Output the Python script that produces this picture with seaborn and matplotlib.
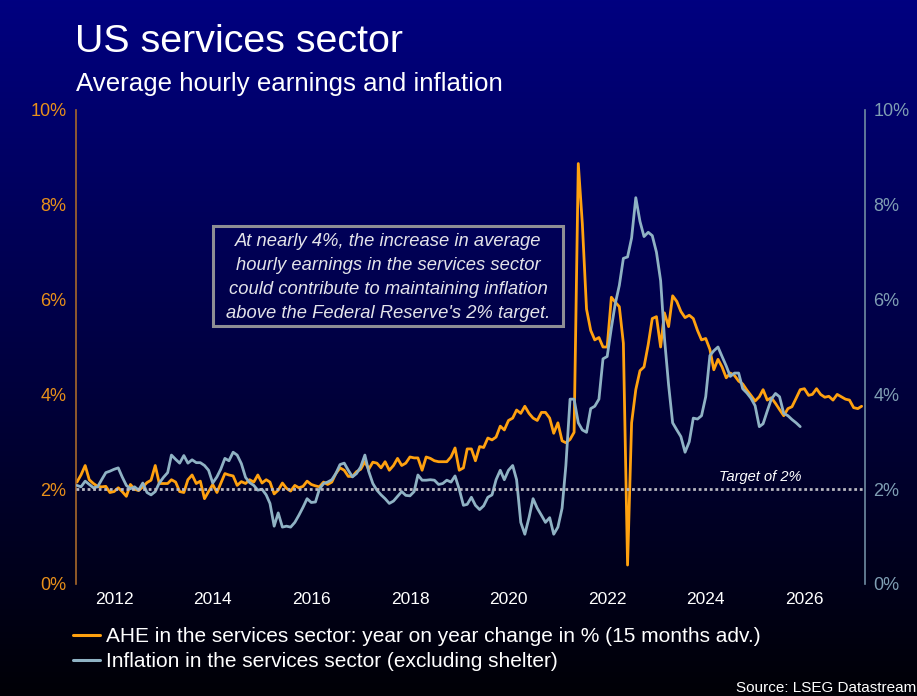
import numpy as np
import pandas as pd
import matplotlib
matplotlib.use("Agg")
import matplotlib.pyplot as plt
import matplotlib.dates as mdates
from matplotlib.patches import Rectangle
from matplotlib.lines import Line2D
import seaborn as sns

# ---- data -----------------------------------------------------------------
# Average hourly earnings, services sector, y/y % change (monthly from Jan 2010);
# plotted 15 months ahead of its release month.
ahe_start = "2010-01-01"
ahe_lead_months = 15
ahe_yoy = [
    2.15, 2.30, 2.50, 2.20, 2.12, 2.06, 2.05, 2.06, 1.93, 1.95, 2.03, 1.95,
    1.85, 2.10, 2.00, 1.97, 2.05, 2.14, 2.19, 2.50, 2.12, 2.12, 2.12, 2.20,
    2.15, 1.95, 1.93, 2.20, 2.30, 2.12, 2.17, 1.80, 1.95, 2.10, 1.93, 2.12,
    2.33, 2.30, 2.28, 2.08, 2.16, 2.12, 2.20, 2.15, 2.30, 2.13, 2.20, 2.15,
    1.90, 1.98, 2.13, 2.02, 1.96, 2.08, 2.03, 2.06, 2.17, 2.10, 2.07, 2.05,
    2.15, 2.10, 2.15, 2.33, 2.45, 2.40, 2.27, 2.27, 2.37, 2.42, 2.58, 2.42,
    2.57, 2.55, 2.45, 2.58, 2.40, 2.50, 2.65, 2.50, 2.55, 2.68, 2.66, 2.66,
    2.40, 2.68, 2.65, 2.60, 2.58, 2.58, 2.58, 2.68, 2.87, 2.40, 2.45, 2.85,
    2.85, 2.60, 2.90, 2.88, 3.08, 3.04, 3.10, 3.33, 3.25, 3.45, 3.50, 3.67,
    3.60, 3.75, 3.60, 3.50, 3.45, 3.62, 3.62, 3.50, 3.18, 3.40, 3.02, 2.98,
    3.05, 3.20, 8.87, 7.60, 5.80, 5.35, 5.15, 5.20, 5.00, 5.00, 6.05, 5.95,
    5.85, 5.08, 0.40, 3.40, 4.10, 4.50, 4.58, 5.05, 5.60, 5.64, 5.00, 5.72,
    5.43, 6.08, 5.96, 5.75, 5.62, 5.67, 5.60, 5.35, 5.15, 5.18, 4.95, 4.52,
    4.74, 4.58, 4.35, 4.45, 4.40, 4.28, 4.22, 4.09, 3.98, 3.86, 3.95, 4.10,
    3.88, 3.93, 3.81, 3.68, 3.55, 3.70, 3.74, 3.92, 4.10, 4.12, 3.98, 4.00,
    4.12, 4.00, 3.94, 3.96, 3.88, 4.00, 3.95, 3.90, 3.88, 3.72, 3.70, 3.75,
]

# Services inflation excluding shelter, y/y % (monthly from Apr 2011)
infl_start = "2011-04-01"
infl_yoy = [
    2.08, 2.05, 2.17, 2.10, 2.03, 2.05, 2.20, 2.35, 2.38, 2.42, 2.45, 2.26,
    2.08, 2.01, 2.05, 1.98, 2.13, 1.93, 1.88, 1.95, 2.13, 2.25, 2.35, 2.72,
    2.63, 2.55, 2.71, 2.55, 2.62, 2.56, 2.56, 2.50, 2.40, 2.13, 2.26, 2.42,
    2.65, 2.60, 2.78, 2.72, 2.54, 2.25, 2.14, 2.08, 1.98, 2.00, 1.88, 1.70,
    1.22, 1.50, 1.20, 1.22, 1.20, 1.30, 1.45, 1.62, 1.80, 1.72, 1.73, 2.00,
    2.12, 2.15, 2.20, 2.33, 2.52, 2.55, 2.40, 2.26, 2.33, 2.47, 2.72, 2.38,
    2.12, 1.98, 1.88, 1.80, 1.70, 1.75, 1.85, 1.95, 1.87, 1.86, 1.95, 2.30,
    2.19, 2.19, 2.20, 2.19, 2.10, 2.12, 2.19, 2.15, 2.28, 2.00, 1.66, 1.68,
    1.83, 1.66, 1.57, 1.65, 1.83, 1.88, 2.20, 2.40, 2.20, 2.40, 2.50, 2.20,
    1.30, 1.05, 1.40, 1.80, 1.60, 1.45, 1.30, 1.40, 1.05, 1.20, 1.60, 2.50,
    3.90, 3.90, 3.40, 3.25, 3.20, 3.70, 3.75, 3.90, 4.75, 4.80, 5.40, 5.90,
    6.30, 6.87, 6.90, 7.30, 8.15, 7.65, 7.33, 7.42, 7.35, 7.00, 6.40, 5.20,
    4.20, 3.40, 3.25, 3.11, 2.78, 3.00, 3.50, 3.48, 3.55, 3.95, 4.82, 4.92,
    5.00, 4.80, 4.60, 4.38, 4.45, 4.45, 4.12, 4.03, 3.92, 3.76, 3.32, 3.38,
    3.65, 3.90, 4.02, 3.95, 3.60, 3.55, 3.47, 3.40, 3.32,
]

fed_target = 2.0
y_ticks = [0, 2, 4, 6, 8, 10]
series_labels = [
    "AHE in the services sector: year on year change in % (15 months adv.)",
    "Inflation in the services sector (excluding shelter)",
]

ahe = pd.DataFrame({
    "date": pd.date_range(ahe_start, periods=len(ahe_yoy), freq="MS")
            + pd.DateOffset(months=ahe_lead_months),
    "value": ahe_yoy,
})
infl = pd.DataFrame({
    "date": pd.date_range(infl_start, periods=len(infl_yoy), freq="MS"),
    "value": infl_yoy,
})

# ---- style ----------------------------------------------------------------
sns.set_theme(style="white")
plt.rcParams["font.family"] = ["Liberation Sans", "DejaVu Sans"]

ORANGE = "#ffa10f"
ORANGE_TXT = "#e8901a"
ORANGE_AXIS = "#a8682a"
BLUE = "#8fb2c4"
BLUE_TXT = "#7f9eb3"
BLUE_AXIS = "#6f8ca2"

W, H = 917, 696
fig = plt.figure(figsize=(W / 100, H / 100), dpi=100, facecolor="black")

# navy-to-black vertical gradient behind everything
bg = fig.add_axes([0, 0, 1, 1], zorder=-10)
t = np.linspace(0, 1, 256)[:, None, None]
top = np.array([0, 0, 128]) / 255
bottom = np.array([0, 0, 6]) / 255
bg.imshow(top + (bottom - top) * t * np.ones((1, 2, 1)), aspect="auto",
          extent=[0, 1, 0, 1], origin="upper")
bg.axis("off")

L, R, T, B = 76, 865, 110, 584
ax = fig.add_axes([L / W, 1 - B / H, (R - L) / W, (B - T) / H])
ax.patch.set_alpha(0)
ax2 = ax.twinx()

sns.lineplot(data=ahe, x="date", y="value", ax=ax, color=ORANGE,
             linewidth=2.0, legend=False)
sns.lineplot(data=infl, x="date", y="value", ax=ax2, color=BLUE,
             linewidth=2.0, legend=False)

ax2.axhline(fed_target, color="#b8b8c0", linewidth=2.0,
            linestyle=(0, (1.0, 1.0)), zorder=5)
ax2.text(pd.Timestamp("2025-02-05"), 2.26, "Target of 2%", ha="center",
         va="center", color="white", fontsize=10.5, style="italic", zorder=6)

for a in (ax, ax2):
    a.set_ylim(0, 10)
    a.set_yticks(y_ticks)
    a.yaxis.set_major_formatter(lambda v, p: f"{v:.0f}%")
    a.set_xlim(pd.Timestamp("2011-03-25"), pd.Timestamp("2027-03-26"))
    a.set_xlabel("")
    a.set_ylabel("")
    a.grid(False)
    for s in a.spines.values():
        s.set_visible(False)

ax.spines["left"].set_visible(True)
ax.spines["left"].set_color(ORANGE_AXIS)
ax.spines["left"].set_linewidth(1.2)
ax2.spines["right"].set_visible(True)
ax2.spines["right"].set_color(BLUE_AXIS)
ax2.spines["right"].set_linewidth(1.2)

ax.tick_params(axis="y", length=0, pad=7, labelsize=13, labelcolor=ORANGE_TXT)
ax2.tick_params(axis="y", length=0, pad=6, labelsize=13, labelcolor=BLUE_TXT)

ax.xaxis.set_major_locator(mdates.YearLocator(2))
ax.xaxis.set_major_formatter(mdates.DateFormatter("%Y"))
ax.tick_params(axis="x", length=0, pad=6, labelsize=12.5, labelcolor="white",
               labelfontfamily="Liberation Sans")

# titles
fig.text(75 / W, 1 - 52 / H, "US services sector", color="white",
         fontsize=28.4, va="baseline", ha="left")
fig.text(76 / W, 1 - 91 / H, "Average hourly earnings and inflation",
         color="white", fontsize=18.6, va="baseline", ha="left")

# comment box
fig.patches.append(Rectangle((213 / W, 1 - 326 / H), 350 / W, 100 / H,
                             transform=fig.transFigure, fill=False,
                             edgecolor="#8e8e94", linewidth=2.2))
fig.text(388 / W, 1 - 277.5 / H,
         "At nearly 4%, the increase in average\n"
         "hourly earnings in the services sector\n"
         "could contribute to maintaining inflation\n"
         "above the Federal Reserve's 2% target.",
         ha="center", va="center", color="#e4e4ea", fontsize=13.2,
         style="italic", linespacing=1.52)

# legend
handles = [Line2D([], [], color=ORANGE, linewidth=2.2),
           Line2D([], [], color=BLUE, linewidth=2.2)]
fig.legend(handles, series_labels, loc="upper left",
           bbox_to_anchor=(73 / W, 1 - 627 / H), frameon=False,
           prop={"family": "Liberation Sans", "size": 15}, labelcolor="white",
           handlelength=1.3, handletextpad=0.3, labelspacing=0.28,
           borderpad=0, borderaxespad=0)

fig.text(916 / W, 1 - 688 / H, "Source: LSEG Datastream", ha="right",
         va="center", color="white", fontsize=11)

fig.savefig("out.png", dpi=100, facecolor=fig.get_facecolor())
